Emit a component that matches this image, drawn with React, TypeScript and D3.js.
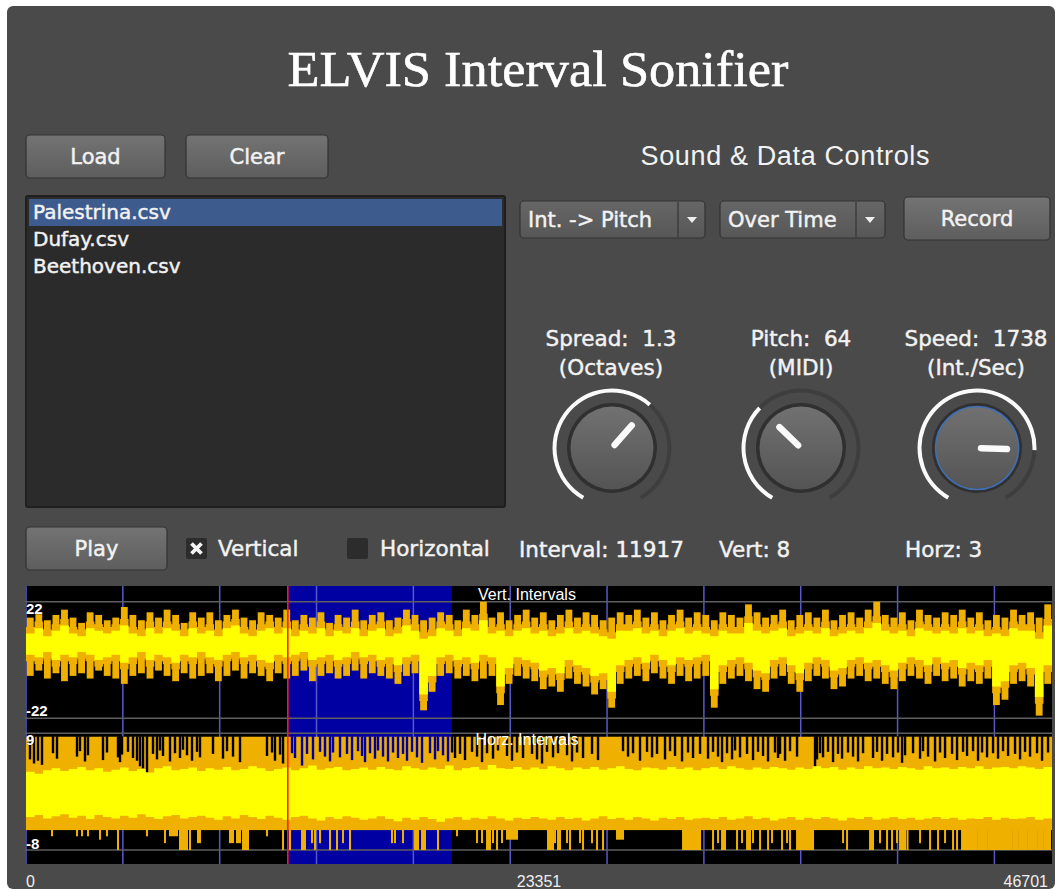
import * as d3 from "d3";

// ---- data ----
const fileNames = ["Palestrina.csv", "Dufay.csv", "Beethoven.csv"];
const knobTitles = ["Spread:  1.3", "Pitch:  64", "Speed:  1738"];
const knobUnits = ["(Octaves)", "(MIDI)", "(Int./Sec)"];
const knobFractions = [0.637, 0.347, 0.807];
const statusLabels = ["Interval: 11917", "Vert: 8", "Horz: 3"];

const totalIntervals = 46701;
const cursorInterval = 11917;
const selectionEnd = 19380;
const xTickLabels = [0, 23351, 46701];
const vertTicks = [22, -22];
const horzTicks = [9, -8];
const gridStep = 4408;

// vertical intervals, 120 bins: orange = min/max, yellow = inner band
const vertHi = [
  16, 18, 15, 17, 19, 16, 14, 18, 17, 15, 16, 20, 17, 15, 18, 16, 19, 17, 14, 18,
  16, 18, 15, 17, 19, 16, 15, 18, 17, 16, 19, 15, 17, 16, 18, 14, 17, 16, 19, 15,
  17, 18, 15, 16, 19, 17, 15, 16, 18, 17, 15, 19, 17, 22, 16, 18, 15, 17, 19, 16,
  18, 15, 17, 19, 16, 18, 17, 15, 16, 18, 17, 19, 16, 18, 15, 17, 19, 16, 18, 17,
  15, 18, 17, 16, 21, 18, 16, 17, 19, 15, 17, 18, 16, 19, 15, 17, 18, 16, 19, 22,
  17, 16, 18, 15, 19, 17, 16, 18, 17, 19, 16, 18, 15, 17, 16, 19, 17, 18, 16, 21,
];
const vertLo = [
  -6, -4, -7, -5, -8, -6, -5, -7, -4, -6, -7, -9, -6, -5, -7, -4, -6, -8, -5, -7,
  -6, -5, -8, -6, -4, -7, -5, -6, -8, -5, -7, -6, -4, -8, -6, -5, -7, -6, -4, -7,
  -5, -6, -7, -9, -6, -5, -19, -12, -6, -5, -7, -6, -8, -7, -6, -17, -9, -6, -7, -8,
  -11, -10, -12, -7, -9, -10, -13, -11, -18, -9, -7, -6, -8, -5, -7, -9, -6, -8, -7, -6,
  -18, -9, -7, -6, -8, -11, -12, -7, -6, -9, -12, -8, -6, -7, -11, -10, -7, -6, -8, -7,
  -9, -11, -8, -6, -7, -9, -6, -8, -7, -10, -8, -9, -7, -17, -15, -9, -8, -10, -21, -9,
];
const vertYellowHi = [
  10, 12, 9, 11, 13, 10, 9, 12, 11, 10, 11, 13, 10, 9, 12, 10, 12, 11, 9, 12,
  10, 11, 9, 12, 13, 10, 9, 11, 12, 10, 12, 9, 11, 10, 12, 9, 11, 10, 12, 9,
  11, 12, 9, 10, 13, 11, 8, 9, 12, 11, 9, 12, 11, 15, 10, 11, 9, 11, 12, 10,
  11, 9, 10, 12, 10, 11, 10, 9, 8, 11, 11, 12, 10, 11, 9, 11, 12, 10, 11, 10,
  9, 11, 10, 10, 14, 11, 10, 11, 12, 9, 10, 11, 10, 12, 9, 10, 11, 10, 12, 14,
  11, 10, 11, 9, 12, 11, 10, 11, 10, 12, 10, 11, 9, 10, 9, 12, 11, 11, 8, 13,
];
const vertYellowLo = [
  2, 1, 3, 0, 2, 1, 3, 2, 0, 1, 2, -1, 1, 3, 0, 2, 1, -1, 2, 1,
  3, 1, 0, 2, 3, 1, 2, 0, -1, 2, 1, 2, 3, 0, 1, 2, 0, 1, 3, 1,
  2, 0, 1, -2, 1, 2, -13, -6, 1, 2, 0, 1, -1, 2, 1, -10, -3, 1, 0, -1,
  -4, -3, -5, 0, -2, -3, -6, -5, -12, -2, 0, 1, -1, 2, 0, -2, 1, 0, 1, 2,
  -11, -2, 0, 1, -1, -4, -5, 0, 1, -2, -5, -1, 1, 0, -4, -3, 0, 1, -1, 0,
  -2, -4, -1, 1, 0, -2, 1, -1, 0, -3, -1, -2, 0, -10, -8, -2, -1, -3, -14, -2,
];

// horizontal intervals: orange band with notches / spikes, yellow inner band
const horzOrangeTop = 8.5;
const horzOrangeBottom = -5.1;
const horzYellowHi = [
  3.4, 3.1, 3.6, 3.9, 3.5, 3.8, 4.1, 3.6, 3.9, 3.4, 3.7, 4.0, 3.5, 3.8, 3.3, 3.9, 4.2, 3.6, 3.8, 4.0,
  3.5, 3.9, 3.7, 4.1, 3.6, 3.8, 4.2, 3.9, 3.5, 3.8, 4.0, 3.6, 3.9, 4.3, 3.7, 3.9, 4.1, 3.6, 3.8, 4.0,
  3.7, 4.1, 3.8, 3.6, 4.2, 3.9, 3.7, 4.0, 3.8, 4.3, 3.6, 3.9, 4.1, 3.7, 4.4, 3.9, 3.8, 4.1, 3.7, 4.0,
  3.8, 4.2, 3.9, 3.6, 4.0, 3.8, 4.1, 3.7, 3.9, 4.2, 3.8, 3.6, 4.0, 3.9, 3.7, 4.1, 3.8, 4.0, 3.6, 3.9,
  4.1, 3.8, 4.2, 3.9, 3.7, 4.0, 3.8, 4.1, 3.9, 3.7, 4.0, 3.8, 4.2, 3.9, 4.1, 3.7, 4.0, 3.8, 4.2, 3.9,
  4.0, 3.8, 4.1, 3.9, 3.7, 4.2, 3.9, 4.0, 3.8, 4.1, 3.9, 4.2, 3.8, 4.0, 4.1, 3.9, 4.2, 4.0, 3.8, 4.1,
];
const horzYellowLo = [
  -3.2, -2.9, -3.4, -3.1, -2.8, -3.3, -3.0, -3.5, -2.9, -3.2, -3.4, -3.0, -3.3, -2.8, -3.2, -3.5, -3.1, -2.9, -3.4, -3.2,
  -3.0, -3.3, -3.6, -3.1, -3.4, -2.9, -3.2, -3.5, -3.0, -3.3, -3.6, -3.2, -3.0, -3.4, -3.7, -3.2, -3.5, -3.1, -3.3, -3.6,
  -3.4, -3.1, -3.5, -3.8, -3.3, -3.6, -3.2, -3.5, -3.9, -3.4, -3.2, -3.6, -3.3, -3.5, -3.1, -3.4, -3.7, -3.3, -3.5, -3.2,
  -3.4, -3.6, -3.2, -3.5, -3.3, -3.7, -3.4, -3.1, -3.5, -3.3, -3.6, -3.2, -3.4, -3.7, -3.3, -3.5, -3.2, -3.6, -3.4, -3.3,
  -3.5, -3.2, -3.6, -3.4, -3.1, -3.5, -3.3, -3.7, -3.4, -3.2, -3.6, -3.3, -3.5, -3.2, -3.4, -3.7, -3.3, -3.5, -3.2, -3.6,
  -3.4, -3.2, -3.5, -3.3, -3.6, -3.4, -3.2, -3.5, -3.3, -3.6, -3.4, -3.5, -3.2, -3.6, -3.3, -3.5, -3.4, -3.2, -3.6, -3.4,
];
// [interval, value the max drops to]
const horzTopNotches = [
  [182, 5.2], [364, 4.6], [546, 5.0], [728, 4.4], [1229, 6.1], [1411, 5.3], [2322, 5.6], [2458, 6.4], [2686, 4.9], [2822, 5.8],
  [3505, 5.1], [3687, 6.2], [4188, 5.5], [4279, 4.8], [4370, 5.9], [4643, 6.3], [4871, 5.4], [5053, 5.0], [5189, 4.2], [5326, 3.9],
  [5508, 3.3], [5781, 6.0], [5963, 5.2], [6100, 6.5], [6236, 5.7], [6555, 4.9], [6782, 6.1], [7010, 5.4], [7147, 6.6], [7329, 5.8],
  [7556, 5.0], [7784, 6.3], [7920, 5.5], [8512, 6.0], [8967, 5.3], [9150, 6.4], [9423, 5.6], [9741, 4.8], [10970, 5.7], [11198, 6.2],
  [11334, 5.0], [11562, 5.9], [11699, 4.6], [12108, 6.1], [12245, 5.4], [12564, 4.3], [12791, 6.0], [13064, 5.2], [13383, 6.3], [13610, 5.6],
  [13838, 4.9], [13975, 6.2], [14293, 5.5], [14612, 6.0], [14840, 5.1], [15113, 6.4], [15295, 5.7], [15431, 4.8], [15659, 6.1], [15886, 5.3],
  [16023, 6.5], [16251, 5.6], [16478, 4.9], [16706, 6.2], [16933, 5.4], [17161, 6.0], [17343, 5.0], [17571, 6.3], [17798, 5.5], [18026, 4.7],
  [18390, 6.1], [18618, 5.2], [18754, 6.4], [18982, 5.8], [19209, 4.9], [19392, 6.2], [19528, 5.4], [19756, 6.0], [19983, 5.1], [20302, 6.3],
  [20530, 5.6], [20757, 4.8], [20985, 6.1], [21258, 5.3], [21485, 6.5], [21895, 5.7], [22123, 5.0], [22350, 6.2], [22623, 5.4], [23033, 6.0],
  [23261, 5.2], [23488, 4.6], [23716, 6.3], [23989, 5.5], [24217, 6.1], [24626, 5.8], [24854, 4.9], [25082, 6.2], [25355, 5.4], [25764, 6.0],
  [26037, 5.1], [27175, 6.4], [27403, 5.6], [27631, 6.1], [27949, 5.0], [28268, 6.3], [28496, 5.5], [28723, 6.0], [29087, 5.2], [29315, 6.4],
  [29542, 5.7], [29861, 4.9], [30134, 6.2], [30362, 5.4], [30681, 6.0], [31045, 5.3], [31272, 6.3], [31500, 5.6], [31682, 4.8], [31910, 6.1],
  [32137, 5.2], [32274, 6.5], [32501, 5.5], [32820, 6.0], [33093, 5.1], [33321, 6.3], [33548, 5.7], [33776, 4.9], [34094, 6.2], [34231, 5.4],
  [34322, 6.0], [34550, 5.0], [34777, 6.4], [35096, 5.6], [35915, 3.3], [36006, 5.2], [36143, 6.1], [36279, 5.5], [36507, 6.3], [36735, 4.8],
  [36962, 6.0], [37144, 5.3], [37417, 6.2], [37645, 5.6], [37873, 4.9], [38100, 6.1], [38555, 5.4], [38738, 6.3], [38965, 5.0], [39193, 6.0],
  [39466, 5.5], [39693, 6.2], [39876, 4.7], [40012, 5.8], [40376, 6.1], [40695, 5.3], [40831, 6.4], [41059, 5.6], [41378, 4.9], [41605, 6.2],
  [41833, 5.4], [42152, 6.0], [42379, 5.1], [42652, 6.3], [42834, 5.7], [43107, 6.4], [43335, 5.0], [43517, 6.2], [43745, 5.5], [44018, 6.1],
  [44245, 5.3], [44473, 6.4], [44701, 5.7], [45019, 6.0], [45247, 5.2], [45474, 6.3], [45702, 5.6], [46021, 6.1], [46248, 5.0], [46521, 6.2],
];
// [from interval, to interval, value the min drops to]
const horzBottomSpikes = [
  [1184, 1184, -6], [2322, 2322, -6], [2549, 2549, -6], [2822, 2822, -6], [3368, 3368, -6.5], [3687, 3687, -6],
  [4188, 4188, -8], [5508, 5508, -6], [6327, 6327, -7], [6555, 6874, -6], [7010, 7329, -8], [7465, 7465, -8],
  [7829, 7829, -7], [7920, 7920, -7], [9286, 9423, -7], [9605, 9741, -7], [9878, 10105, -8], [10970, 10970, -6],
  [11699, 11699, -8], [12017, 12017, -8], [12564, 12700, -8], [13019, 13019, -7], [13155, 13155, -8], [13383, 13383, -7],
  [13838, 13838, -8], [14157, 14157, -8], [14430, 14430, -7], [14748, 14748, -8], [16660, 16660, -7], [16797, 16797, -7],
  [17161, 17161, -7], [17707, 17844, -8], [18026, 18162, -8], [18754, 18754, -8], [19619, 19619, -6], [20530, 20530, -7],
  [20757, 20757, -7], [20985, 21121, -8], [21258, 21258, -7], [21440, 21440, -8], [21667, 21667, -7], [21895, 22350, -6.5],
  [23761, 23989, -8], [24080, 24080, -7], [24217, 24308, -8], [24626, 24626, -7], [24763, 24763, -8], [25218, 25218, -7],
  [25355, 25355, -8], [25764, 25764, -7], [25992, 25992, -8], [26265, 26265, -8], [26902, 27175, -6.5], [29907, 30681, -8],
  [31272, 31272, -8], [31500, 31500, -7], [31682, 31818, -8], [32365, 32365, -8], [32592, 32592, -7], [32820, 32956, -8],
  [33093, 33093, -7], [33412, 33412, -8], [33776, 33776, -8], [33958, 33958, -7], [34413, 34413, -8], [34641, 34641, -7],
  [34777, 34777, -8], [35096, 35824, -8], [37190, 37190, -7], [37372, 37372, -8], [38419, 38555, -8], [38874, 38874, -7],
  [39193, 39193, -8], [39420, 39420, -8], [39647, 39647, -7], [39784, 40012, -8], [40125, 40125, -8], [40695, 40695, -7],
  [41150, 41150, -8], [41514, 41514, -8], [41833, 41833, -7], [42197, 42197, -8], [42379, 42379, -8], [42607, 43244, -8],
  [43335, 43699, -8], [43790, 44837, -8], [44928, 45110, -8], [45201, 45520, -8], [45611, 45975, -8], [46066, 46248, -8],
  [46339, 46612, -8],
];

const UI_FONT = "'DejaVu Sans', Verdana, sans-serif";
const SANS = "'Liberation Sans', Arial, sans-serif";
const TEXT = "#f2f2f2";
const ORANGE = "#f0b000";
const YELLOW = "#ffff00";
const SEL_BLUE = "#0000a2";

const x = d3.scaleLinear().domain([0, totalIntervals]).range([26, 1052]);
const vY = d3.scaleLinear().domain([-22, 22]).range([718.3, 601.7]);
const hY = d3.scaleLinear().domain([-8, 9]).range([850, 733.3]);

// step-shaped band between hi and lo, optionally widened by `pad` value units
function bandPath(hi: number[], lo: number[], y: d3.ScaleLinear<number, number>, pad = 0) {
  const n = hi.length;
  const pts = hi.map((h, i) => ({ t: (i * totalIntervals) / n, h: h + pad, l: lo[i] - pad }));
  pts.push({ t: totalIntervals, h: hi[n - 1] + pad, l: lo[n - 1] - pad });
  return d3
    .area<{ t: number; h: number; l: number }>()
    .x((d) => x(d.t))
    .y0((d) => y(d.l))
    .y1((d) => y(d.h))
    .curve(d3.curveStepAfter)(pts) as string;
}

// heavier text, closer to the original's antialiased UI font
const uiText = { fontFamily: UI_FONT, fill: TEXT, stroke: TEXT, strokeWidth: 0.45 };

function Button({ x0, y0, w, h, label }: any) {
  return (
    <g>
      <rect x={x0} y={y0} width={w} height={h} rx={4} fill="url(#btnGrad)" stroke="#333" strokeWidth={1.2} />
      <text x={x0 + w / 2} y={y0 + h / 2 + 7} textAnchor="middle" fontSize={21} {...uiText}>
        {label}
      </text>
    </g>
  );
}

function Dropdown({ x0, w, divX, label }: any) {
  const y0 = 201, h = 37;
  return (
    <g>
      <rect x={x0} y={y0} width={w} height={h} rx={4} fill="url(#ddGrad)" stroke="#333" strokeWidth={1.2} />
      <line x1={divX} x2={divX} y1={y0 + 1} y2={y0 + h - 1} stroke="#3c3c3c" strokeWidth={1.5} />
      <path d={`M${divX + 9},${y0 + 16} l10,0 l-5,6 z`} fill="#eee" />
      <text x={x0 + 8} y={y0 + 26} fontSize={21} {...uiText}>
        {label}
      </text>
    </g>
  );
}

const knobAngle = d3.scaleLinear().domain([0, 1]).range([(-150 * Math.PI) / 180, (150 * Math.PI) / 180]);

function Knob({ cx, cy, frac, focused }: any) {
  const a = knobAngle(frac);
  const track = d3.arc()({ innerRadius: 55.5, outerRadius: 59.5, startAngle: knobAngle(0), endAngle: knobAngle(1) } as any) as string;
  const value = d3.arc()({ innerRadius: 55.5, outerRadius: 59.5, startAngle: knobAngle(0), endAngle: a } as any) as string;
  const p = (r: number) => [cx + r * Math.sin(a), cy - r * Math.cos(a)];
  const [x1, y1] = p(4);
  const [x2, y2] = p(30);
  return (
    <g>
      <g transform={`translate(${cx},${cy})`}>
        <path d={track} fill="#3e3e3e" />
        <path d={value} fill="#fafafa" />
      </g>
      <circle cx={cx} cy={cy} r={45} fill="#303030" />
      <circle cx={cx} cy={cy} r={41.5} fill="url(#knobGrad)" stroke={focused ? "#3f6fb5" : "none"} strokeWidth={1.6} />
      <line x1={x1} y1={y1} x2={x2} y2={y2} stroke="#fafafa" strokeWidth={6.5} strokeLinecap="round" />
    </g>
  );
}

export default function App() {
  const gridXs = d3.range(0, totalIntervals, gridStep);
  const selX0 = x(cursorInterval);
  const selX1 = x(selectionEnd);
  const inSel = (t: number) => t >= cursorInterval && t <= selectionEnd;
  const knobCx = [612, 801, 977];
  const labelCx = [611, 801, 976];
  const binW = (x(totalIntervals) - x(0)) / vertHi.length;

  return (
    <svg width={1055} height={890} style={{ position: "absolute", left: 0, top: 0 }}>
      <defs>
        <linearGradient id="btnGrad" x1="0" y1="0" x2="0" y2="1">
          <stop offset="0" stopColor="#737373" />
          <stop offset="1" stopColor="#5e5e5e" />
        </linearGradient>
        <linearGradient id="ddGrad" x1="0" y1="0" x2="0" y2="1">
          <stop offset="0" stopColor="#666" />
          <stop offset="1" stopColor="#575757" />
        </linearGradient>
        <linearGradient id="knobGrad" x1="0" y1="0" x2="0" y2="1">
          <stop offset="0" stopColor="#717171" />
          <stop offset="1" stopColor="#545454" />
        </linearGradient>
      </defs>

      <rect x={0} y={0} width={1055} height={890} fill="#fff" />
      <rect x={7} y={6} width={1048} height={883} rx={6} fill="#4a4a4a" />

      <text x={538} y={86} textAnchor="middle" fontFamily="'Liberation Serif', 'DejaVu Serif', serif" fontSize={51}
        textLength={501} lengthAdjust="spacingAndGlyphs" fill="#fff" stroke="#fff" strokeWidth={0.6}>
        ELVIS Interval Sonifier
      </text>

      <Button x0={26} y0={135} w={139} h={43} label="Load" />
      <Button x0={186} y0={135} w={142} h={43} label="Clear" />

      <text x={785} y={165} textAnchor="middle" fontFamily={SANS} fontSize={27} textLength={289} fill={TEXT}>
        Sound &amp; Data Controls
      </text>

      {/* file list */}
      <rect x={26} y={196} width={479} height={311} rx={2} fill="#2b2b2b" stroke="#1f1f1f" strokeWidth={2} />
      <rect x={29} y={199} width={473} height={27} fill="#3e5b8e" />
      {fileNames.map((f, i) => (
        <text key={f} x={33} y={219 + i * 27} fontSize={20} {...uiText}>
          {f}
        </text>
      ))}

      <Dropdown x0={520} w={185} divX={678} label="Int. -> Pitch" />
      <Dropdown x0={720} w={165} divX={856} label="Over Time" />
      <Button x0={904} y0={197} w={146} h={43} label="Record" />

      {knobTitles.map((t, i) => (
        <g key={t}>
          <text x={labelCx[i]} y={346} textAnchor="middle" fontSize={21.5} {...uiText} xmlSpace="preserve">
            {t}
          </text>
          <text x={labelCx[i]} y={375} textAnchor="middle" fontSize={21.5} {...uiText}>
            {knobUnits[i]}
          </text>
          <Knob cx={knobCx[i]} cy={448} frac={knobFractions[i]} focused={i === 2} />
        </g>
      ))}

      <Button x0={26} y0={527} w={141} h={43} label="Play" />
      <rect x={186} y={538} width={21} height={21} rx={2} fill="#2c2c2c" />
      <path d="M191.5,543.5 L201.5,553.5 M201.5,543.5 L191.5,553.5" stroke="#f4f4f4" strokeWidth={3.8} />
      <text x={218} y={556} fontSize={21.5} {...uiText}>Vertical</text>
      <rect x={347} y={538} width={21} height={21} rx={2} fill="#2c2c2c" />
      <text x={380} y={556} fontSize={21.5} {...uiText}>Horizontal</text>
      {statusLabels.map((s, i) => (
        <text key={s} x={[519, 719, 905][i]} y={557} fontSize={21.5} {...uiText}>
          {s}
        </text>
      ))}

      {/* plot */}
      <rect x={25} y={586} width={1027} height={278} fill="#000" />
      <rect x={selX0} y={586} width={selX1 - selX0} height={278} fill={SEL_BLUE} />
      {gridXs.map((g) => (
        <line key={g} x1={x(g)} x2={x(g)} y1={586} y2={864} stroke="#5858cc" strokeWidth={1.5} />
      ))}
      {[vY(22), vY(0), vY(-22), hY(9), hY(-8)].map((yy, i) => (
        <line key={i} x1={25} x2={1052} y1={yy} y2={yy} stroke="#5e5e5e" strokeWidth={1.5} />
      ))}

      {/* vertical intervals: orange min/max spikes around a yellow inner band */}
      <path d={bandPath(vertYellowHi, vertYellowLo, vY, 2.5)} fill={ORANGE} />
      {vertHi.map((h, i) => (
        <rect key={"vb" + i} x={x((i * totalIntervals) / vertHi.length) + binW * 0.1} width={binW * 0.8}
          y={vY(h)} height={vY(vertLo[i]) - vY(h)} fill={ORANGE} />
      ))}
      <path d={bandPath(vertYellowHi, vertYellowLo, vY)} fill={YELLOW} />

      {/* horizontal intervals */}
      <rect x={x(0)} y={hY(horzOrangeTop)} width={x(totalIntervals) - x(0)} height={hY(horzOrangeBottom) - hY(horzOrangeTop)} fill={ORANGE} />
      {horzTopNotches.map(([t, v], i) => (
        <rect key={"n" + i} x={x(t) - 1.2} y={hY(horzOrangeTop) - 0.5} width={2.4} height={hY(v) - hY(horzOrangeTop) + 0.5}
          fill={inSel(t) ? SEL_BLUE : "#000"} />
      ))}
      {horzBottomSpikes.map(([t0, t1, v], i) => (
        <rect key={"s" + i} x={x(t0) - 1} y={hY(horzOrangeBottom) - 0.5} width={Math.max(2, x(t1) - x(t0) + 2)}
          height={hY(v) - hY(horzOrangeBottom) + 0.5} fill={ORANGE} />
      ))}
      <path d={bandPath(horzYellowHi, horzYellowLo, hY)} fill={YELLOW} />

      <line x1={selX0} x2={selX0} y1={586} y2={864} stroke="#ff1a1a" strokeWidth={1.6} />

      <text x={527} y={600} textAnchor="middle" fontFamily={SANS} fontSize={16} fill="#fff">Vert. Intervals</text>
      <text x={527} y={745} textAnchor="middle" fontFamily={SANS} fontSize={16} fill="#fff">Horz. Intervals</text>
      {vertTicks.map((v, i) => (
        <text key={"v" + v} x={26} y={i === 0 ? vY(v) + 12 : vY(v) - 2} fontFamily={SANS} fontSize={15} fontWeight="bold"
          fill="#fff" stroke="#000" strokeWidth={0.6} paintOrder="stroke">
          {v}
        </text>
      ))}
      {horzTicks.map((v, i) => (
        <text key={"h" + v} x={26} y={i === 0 ? hY(v) + 12 : hY(v) - 1} fontFamily={SANS} fontSize={15} fontWeight="bold"
          fill="#fff" stroke="#000" strokeWidth={0.6} paintOrder="stroke">
          {v}
        </text>
      ))}
      {xTickLabels.map((t, i) => (
        <text key={t} x={i === 0 ? 26 : i === 1 ? x(t) : 1048} y={887}
          textAnchor={i === 0 ? "start" : i === 1 ? "middle" : "end"} fontFamily={SANS} fontSize={16} fill="#eee">
          {t}
        </text>
      ))}
    </svg>
  );
}
